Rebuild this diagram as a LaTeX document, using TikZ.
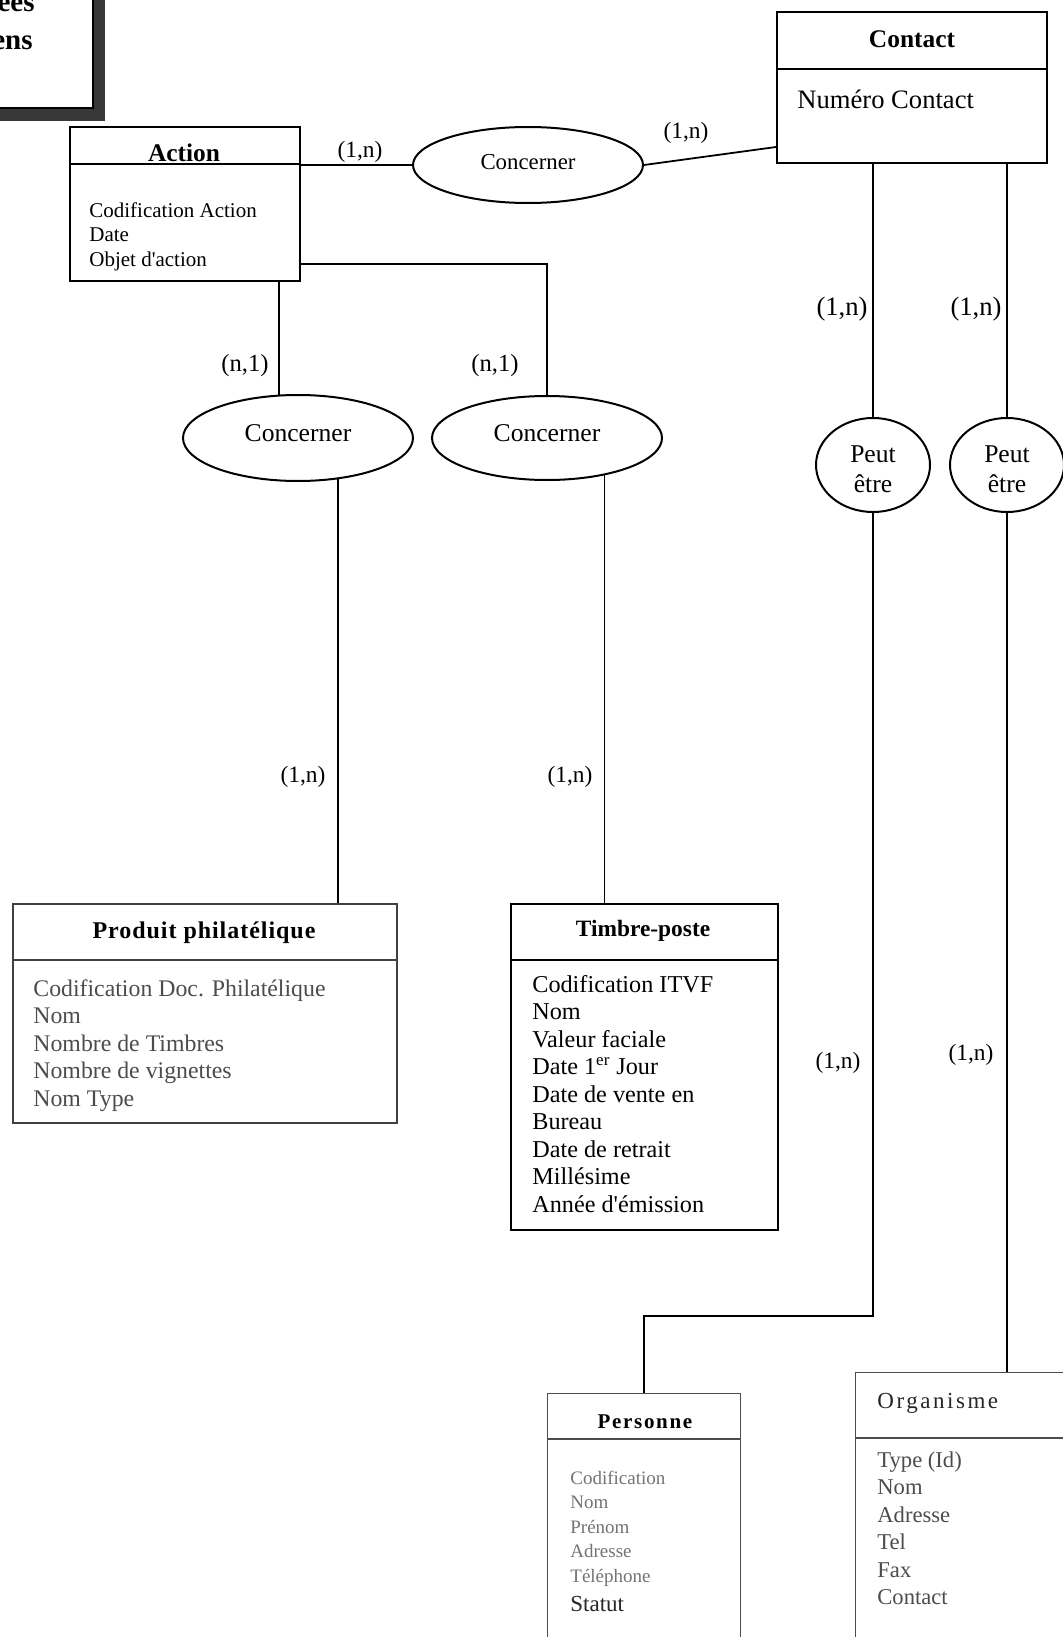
\documentclass[tikz,border=0pt]{standalone}
\usepackage{fontspec}
\setmainfont{Liberation Serif}
\usetikzlibrary{shapes.geometric,calc}
\begin{document}
\begin{tikzpicture}[x=0.5pt,y=-0.5pt,
  ent/.style={draw, line width=1pt, rectangle, inner sep=0pt, anchor=north west},
  hdr/.style={line width=1pt},
  rel/.style={draw, ellipse, line width=1pt, inner sep=0pt},
  link/.style={draw, line width=0.9pt},
  card/.style={inner sep=0pt, font=\fontsize{11.7pt}{14pt}\selectfont},
  bigcard/.style={inner sep=0pt, font=\fontsize{13.3pt}{15pt}\selectfont},
  txt/.style={inner sep=0pt, anchor=base west},
  ttl/.style={inner sep=0pt, anchor=base, font=\bfseries\fontsize{12.7pt}{14pt}\selectfont},
  petxt/.style={inner sep=0pt, align=center, font=\fontsize{12.8pt}{15pt}\selectfont}
]
\useasboundingbox (0,0) rectangle (1062,1637);

% ---- title box (cropped) ----
\fill[black!78] (-40,-40) rectangle (105,121);
\filldraw[fill=white, draw=black, line width=0.6pt] (-50,-50) rectangle (93,108);
\node[inner sep=0pt, anchor=base east, font=\bfseries\fontsize{14.5pt}{16pt}\selectfont] (tt1) at (35,12) {ées};
\node[inner sep=0pt, anchor=base east, font=\bfseries\fontsize{14.5pt}{16pt}\selectfont] (tt2) at (33,50) {ens};

% ---- Action ----
\node[ent, minimum width=115pt, minimum height=77pt] (action) at (69,126) {};
\draw[hdr] (69,164) -- (299,164);
\node[ttl] (actiont) at (184,162) {Action};
\foreach \t [count=\i] in {Codification Action, Date, Objet d\textquotesingle action}
  \node[txt, font=\fontsize{10.5pt}{12pt}\selectfont] (aa\i) at (89,{218+24*(\i-1)}) {\t};

% ---- Contact ----
\node[ent, minimum width=135pt, minimum height=75.5pt] (contact) at (776,11) {};
\draw[hdr] (776,69) -- (1046,69);
\node[ttl] (contactt) at (912,48) {Contact};
\node[txt, font=\fontsize{13.3pt}{15pt}\selectfont] (ca1) at (797,109) {Numéro Contact};

% ---- relations ----
\node[rel, minimum width=115pt, minimum height=38pt] (c1) at (528,165) {};
\node[inner sep=0pt, font=\fontsize{11.4pt}{13pt}\selectfont] (c1t) at (528,162) {Concerner};
\node[rel, minimum width=115pt, minimum height=43pt] (c2) at (298,438) {};
\node[inner sep=0pt, font=\fontsize{12.8pt}{14pt}\selectfont] (c2t) at (298,433) {Concerner};
\node[rel, minimum width=115pt, minimum height=42pt] (c3) at (547,438) {};
\node[inner sep=0pt, font=\fontsize{12.8pt}{14pt}\selectfont] (c3t) at (547,433) {Concerner};
\node[rel, minimum width=57pt, minimum height=47pt] (pe1) at (873,465) {};
\node[petxt] (pe1t) at (873,469) {Peut\\être};
\node[rel, minimum width=57pt, minimum height=47pt] (pe2) at (1007,465) {};
\node[petxt] (pe2t) at (1007,469) {Peut\\être};

% ---- Produit philatélique ----
\node[ent, draw=black!75, line width=0.8pt, minimum width=192pt, minimum height=109.5pt] (prod) at (12,903) {};
\draw[line width=0.8pt, black!75] (12,960) -- (396,960);
\node[inner sep=0pt, anchor=base, font=\bfseries\fontsize{12pt}{14pt}\selectfont\addfontfeature{LetterSpace=4}] (prodt) at (204,938) {Produit philatélique};
\foreach \t [count=\i] in {Codification Doc. Philatélique, Nom, Nombre de Timbres, Nombre de vignettes, Nom Type}
  \node[txt, text=black!70, font=\fontsize{11.9pt}{14pt}\selectfont] (pa\i) at (33,{996+27.5*(\i-1)}) {\t};

% ---- Timbre-poste ----
\node[ent, minimum width=133.5pt, minimum height=163pt] (timbre) at (510,903) {};
\draw[hdr] (510,960) -- (777,960);
\node[inner sep=0pt, anchor=base, font=\bfseries\fontsize{11.7pt}{14pt}\selectfont] (timbret) at (643,936) {Timbre-poste};
\foreach \t [count=\i] in {Codification ITVF, Nom, Valeur faciale, {Date 1\textsuperscript{er} Jour}, Date de vente en, Bureau, Date de retrait, Millésime, Année d\textquotesingle émission}
  \node[txt, font=\fontsize{12.1pt}{14pt}\selectfont] (ta\i) at (532,{992+27.5*(\i-1)}) {\t};

% ---- Personne ----
\node[ent, draw=black!70, line width=0.7pt, minimum width=96.5pt, minimum height=153.5pt] (pers) at (547,1393) {};
\draw[line width=0.7pt, black!70] (547,1439) -- (740,1439);
\node[inner sep=0pt, anchor=base, font=\bfseries\fontsize{10.5pt}{12pt}\selectfont\addfontfeature{LetterSpace=8}] (perst) at (645,1428) {Personne};
\foreach \t [count=\i] in {Codification, Nom, Prénom, Adresse, Téléphone}
  \node[txt, text=black!55, font=\fontsize{9.5pt}{11pt}\selectfont] (pra\i) at (570,{1484+24.5*(\i-1)}) {\t};
\node[txt, text=black!85, font=\fontsize{11.5pt}{13pt}\selectfont] (pra6) at (570,1611) {Statut};

% ---- Organisme ----
\node[ent, draw=black!70, line width=0.7pt, minimum width=122.5pt, minimum height=160pt] (org) at (855,1372) {};
\draw[line width=0.7pt, black!70] (855,1438) -- (1100,1438);
\node[txt, text=black!85, font=\fontsize{11.5pt}{13pt}\selectfont\addfontfeature{LetterSpace=11}] (orgt) at (877,1408) {Organisme};
\foreach \t [count=\i] in {Type (Id), Nom, Adresse, Tel, Fax, Contact}
  \node[txt, text=black!70, font=\fontsize{11.3pt}{13pt}\selectfont] (oa\i) at (877,{1467+27.5*(\i-1)}) {\t};

% ---- connectors ----
\draw[link] (c1.west) -- (c1.west -| action.east);
\coordinate (ck) at ($(contact.south west)+(0,-17)$);
\draw[link] (c1.east) -- (ck);
\draw[link] (pe1.north) -- (pe1.north |- contact.south);
\draw[link] (pe2.north) -- (pe2.north |- contact.south);
\draw[link] (c2.114) -- (c2.114 |- action.south);
\coordinate (ak) at ($(action.south east)+(0,-18)$);
\draw[link] (c3.north) |- (ak);
\draw[link] (c2.-46) -- (c2.-46 |- prod.north);
\draw[link] (c3.-33) -- (c3.-33 |- timbre.north);
\coordinate (pk) at ($(pers.north)+(0,-77)$);
\draw[link] (pe1.south) |- (pk) -- (pers.north);
\draw[link] (pe2.south) -- (pe2.south |- org.north);

% ---- cardinalities ----
\node[card] (k1) at (360,152) {(1,n)};
\node[card] (k2) at (686,133) {(1,n)};
\node[bigcard] (k3) at (842,309) {(1,n)};
\node[bigcard] (k4) at (976,309) {(1,n)};
\node[card, font=\fontsize{12.3pt}{14pt}\selectfont] (k5) at (245,366) {(n,1)};
\node[card, font=\fontsize{12.3pt}{14pt}\selectfont] (k6) at (495,366) {(n,1)};
\node[card] (k7) at (303,777) {(1,n)};
\node[card] (k8) at (570,777) {(1,n)};
\node[card] (k9) at (838,1063) {(1,n)};
\node[card] (k10) at (971,1055) {(1,n)};
\end{tikzpicture}
\end{document}
